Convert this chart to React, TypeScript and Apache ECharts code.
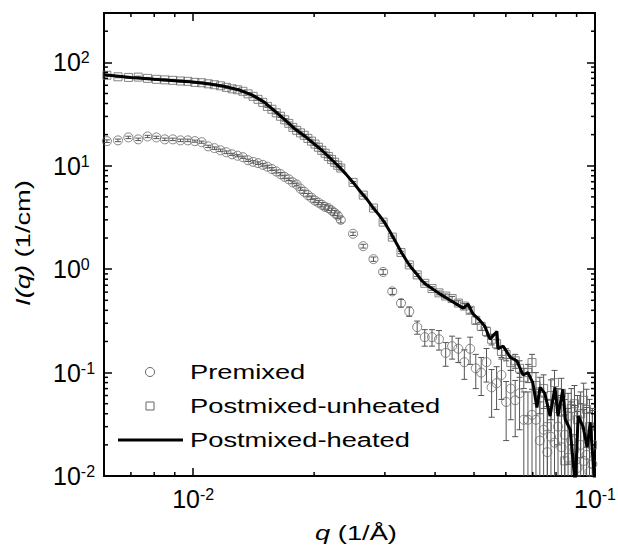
import React, { useEffect, useRef } from 'react';
import * as echarts from 'echarts';

// ---------- data ----------
// q values (1/Å) shared by the two scattered data sets
const qValues = [
  0.0061, 0.0065, 0.0069, 0.0073, 0.0077, 0.0081, 0.0085, 0.0089, 0.0093, 0.0097,
  0.0101, 0.0105, 0.0109, 0.0113, 0.0117, 0.0121, 0.0125, 0.0129, 0.0133, 0.0137,
  0.0141, 0.0145, 0.0149, 0.0153, 0.0157, 0.0161, 0.0165, 0.0169, 0.0173, 0.0177,
  0.0181, 0.0185, 0.0189, 0.0193, 0.0197, 0.0201, 0.0205, 0.0209, 0.0213, 0.0217,
  0.0221, 0.0225, 0.0229, 0.0233,
  0.0250, 0.0265, 0.0281, 0.0297, 0.0313, 0.0329, 0.0345, 0.0361, 0.0377, 0.0393,
  0.0409, 0.0425, 0.0441, 0.0457, 0.0473, 0.0489, 0.0505, 0.0521, 0.0537, 0.0553,
  0.0569, 0.0585, 0.0601, 0.0617, 0.0633, 0.0649, 0.0665, 0.0681, 0.0697, 0.0713,
  0.0729, 0.0745, 0.0761, 0.0777, 0.0793, 0.0809, 0.0825, 0.0841, 0.0857, 0.0873,
  0.0889, 0.0905, 0.0921, 0.0937, 0.0953, 0.0969, 0.0985,
];

const premixedI = [
  17.3, 17.6, 18.8, 18.0, 19.2, 18.8, 18.0, 18.0, 17.6, 17.6,
  17.3, 16.9, 15.4, 14.8, 14.1, 13.5, 12.9, 12.5, 12.1, 11.3,
  10.9, 10.6, 10.2, 9.8, 9.3, 8.8, 8.3, 7.8, 7.4, 6.9,
  6.6, 6.0, 5.6, 5.2, 4.9, 4.6, 4.4, 4.2, 4.0, 3.9,
  3.7, 3.5, 3.3, 3.0,
  2.2, 1.67, 1.25, 0.94, 0.61, 0.47, 0.39, 0.275, 0.22, 0.22,
  0.21, 0.155, 0.18, 0.17, 0.126, 0.17, 0.11, 0.10, 0.126, 0.072,
  0.079, 0.095, 0.052, 0.07, 0.054, 0.063, 0.035, 0.035, 0.039, 0.035,
  0.022, 0.028, 0.017, 0.024, 0.021, 0.030, 0.019, 0.025, 0.015, 0.022,
  0.018, 0.012, 0.02, 0.014, 0.016, 0.011, 0.013,
];

const premixedErr = [
  0.5, 0.5, 0.5, 0.5, 0.5, 0.5, 0.5, 0.5, 0.5, 0.5,
  0.4, 0.4, 0.4, 0.4, 0.4, 0.4, 0.3, 0.3, 0.3, 0.3,
  0.3, 0.3, 0.3, 0.3, 0.3, 0.3, 0.3, 0.3, 0.2, 0.2,
  0.2, 0.2, 0.2, 0.2, 0.2, 0.2, 0.2, 0.2, 0.2, 0.2,
  0.2, 0.2, 0.2, 0.2,
  0.08, 0.07, 0.06, 0.05, 0.04, 0.04, 0.04, 0.04, 0.04, 0.04,
  0.045, 0.04, 0.045, 0.045, 0.04, 0.05, 0.04, 0.04, 0.045, 0.035,
  0.035, 0.04, 0.03, 0.035, 0.03, 0.035, 0.03, 0.03, 0.03, 0.03,
  0.03, 0.03, 0.03, 0.03, 0.03, 0.03, 0.03, 0.03, 0.03, 0.03,
  0.03, 0.03, 0.03, 0.03, 0.03, 0.03, 0.03,
];

const unheatedI = [
  75, 72.5, 71.5, 72, 70, 68.5, 67.7, 67, 66, 65.5,
  64, 63.5, 62, 60.7, 59.3, 57.3, 55.5, 54.3, 52.5, 49.6,
  46.9, 43.9, 41.0, 37.5, 35.2, 32.5, 30.1, 27.8, 25.7, 23.5,
  22.0, 20.8, 19.7, 18.4, 17.3, 16.2, 15.1, 14.1, 13.2, 12.3,
  11.5, 10.8, 10.1, 9.5,
  6.9, 5.2, 3.9, 2.85, 2.04, 1.45, 1.1, 0.88, 0.73, 0.65,
  0.59, 0.55, 0.52, 0.47, 0.44, 0.40, 0.32, 0.28, 0.25, 0.21,
  0.19, 0.16, 0.15, 0.125, 0.13, 0.11, 0.09, 0.1, 0.125, 0.075,
  0.065, 0.07, 0.03, 0.06, 0.08, 0.045, 0.063, 0.014, 0.038, 0.045,
  0.05, 0.035, 0.04, 0.054, 0.044, 0.03, 0.02,
];

const unheatedErr = [
  1.5, 1.5, 1.5, 1.5, 1.5, 1.5, 1.5, 1.5, 1.5, 1.5,
  1.2, 1.2, 1.2, 1.2, 1.2, 1.2, 1.2, 1.2, 1.2, 1.2,
  0.8, 0.8, 0.8, 0.8, 0.8, 0.8, 0.8, 0.8, 0.8, 0.8,
  0.4, 0.4, 0.4, 0.4, 0.4, 0.4, 0.4, 0.4, 0.4, 0.4,
  0.4, 0.4, 0.4, 0.4,
  0.15, 0.12, 0.09, 0.07, 0.05, 0.04, 0.03, 0.03, 0.025, 0.025,
  0.025, 0.025, 0.025, 0.025, 0.025, 0.025, 0.025, 0.025, 0.025, 0.025,
  0.02, 0.02, 0.02, 0.02, 0.02, 0.02, 0.02, 0.02, 0.025, 0.025,
  0.025, 0.025, 0.025, 0.025, 0.025, 0.025, 0.025, 0.025, 0.025, 0.025,
  0.025, 0.025, 0.025, 0.025, 0.025, 0.025, 0.025,
];

const heatedQ = [
  0.006, 0.007, 0.008, 0.009, 0.010, 0.011, 0.012, 0.013, 0.014, 0.015,
  0.016, 0.017, 0.018, 0.019, 0.020, 0.021, 0.022, 0.023, 0.024, 0.025,
  0.026, 0.027, 0.028, 0.029, 0.030, 0.031, 0.032, 0.033, 0.034, 0.035,
  0.036, 0.037, 0.038, 0.041, 0.0436, 0.0470, 0.0483, 0.0497, 0.0517, 0.0532,
  0.0548, 0.0570, 0.0574, 0.0591, 0.0616, 0.0639, 0.0662, 0.0681, 0.0700, 0.0717,
  0.0730, 0.0750, 0.0773, 0.0795, 0.0809, 0.0832, 0.0844, 0.0868, 0.0893, 0.0908,
  0.0934, 0.0956, 0.0973, 0.100,
];

const heatedI = [
  76, 71.5, 68.5, 66.5, 64.5, 61.8, 58.5, 54.2, 48.5, 41.5,
  33.5, 27.3, 22.4, 19.2, 16.3, 13.9, 11.7, 9.9, 8.3, 6.9,
  5.7, 4.8, 3.95, 3.35, 2.8, 2.25, 1.8, 1.45, 1.2, 1.02,
  0.9, 0.78, 0.71, 0.58, 0.50, 0.42, 0.46, 0.37, 0.32, 0.28,
  0.21, 0.25, 0.17, 0.18, 0.14, 0.13, 0.095, 0.10, 0.08, 0.046,
  0.072, 0.063, 0.038, 0.072, 0.038, 0.069, 0.035, 0.028, 0.008, 0.038,
  0.030, 0.019, 0.033, 0.008,
];

const xRange = [0.006, 0.1];
const yRange = [0.01, 300];
const xMinorTicks = [0.007, 0.008, 0.009, 0.02, 0.03, 0.04, 0.05, 0.06, 0.07, 0.08, 0.09];
const yMinorTicks = [
  0.02, 0.03, 0.04, 0.05, 0.06, 0.07, 0.08, 0.09,
  0.2, 0.3, 0.4, 0.5, 0.6, 0.7, 0.8, 0.9,
  2, 3, 4, 5, 6, 7, 8, 9,
  20, 30, 40, 50, 60, 70, 80, 90, 200,
];

const seriesNames = ['Premixed', 'Postmixed-unheated', 'Postmixed-heated'];
const xTitle = { italic: 'q', rest: ' (1/Å)' };
const yTitle = { italic: 'I(q)', rest: ' (1/cm)' };

// ---------- styling ----------
const FONT = "'Liberation Sans', Arial, Helvetica, sans-serif";
const MARK = '#666';

const supFormatter = (v: number) => {
  const e = Math.log10(v);
  const r = Math.round(e);
  if (Math.abs(e - r) > 1e-6) return '';
  return `{b|10}{s|${r}}`;
};

const labelRich = {
  b: { fontSize: 25, fontFamily: FONT, color: '#000' },
  s: { fontSize: 16, fontFamily: FONT, color: '#000', verticalAlign: 'top' },
};

const axisCommon = {
  type: 'log',
  logBase: 10,
  axisLine: { show: true, onZero: false, lineStyle: { color: '#000', width: 2 } },
  axisTick: { show: true, inside: true, length: 8, lineStyle: { color: '#000', width: 1.5 } },
  minorTick: { show: false },
  splitLine: { show: false },
  minorSplitLine: { show: false },
};

function errorBarRender(params: any, api: any) {
  const qv = api.value(0);
  const iv = api.value(1);
  const ev = api.value(2);
  const cs = params.coordSys;
  const bottom = cs.y + cs.height;
  const top = cs.y;
  const x = api.coord([qv, iv])[0];
  let yTop = api.coord([qv, iv + ev])[1];
  const lo = iv - ev;
  let yBot = lo > 0 ? api.coord([qv, lo])[1] : bottom + 10;
  const children: any[] = [];
  const style = { stroke: '#555', lineWidth: 1 };
  const capTop = yTop >= top;
  const capBot = yBot <= bottom;
  yTop = Math.max(yTop, top);
  yBot = Math.min(yBot, bottom);
  children.push({ type: 'line', shape: { x1: x, y1: yTop, x2: x, y2: yBot }, style });
  if (capTop) children.push({ type: 'line', shape: { x1: x - 3, y1: yTop, x2: x + 3, y2: yTop }, style });
  if (capBot) children.push({ type: 'line', shape: { x1: x - 3, y1: yBot, x2: x + 3, y2: yBot }, style });
  return { type: 'group', children };
}

function xTickRender(params: any, api: any) {
  const cs = params.coordSys;
  const x = api.coord([api.value(0), 1])[0];
  const style = { stroke: '#000', lineWidth: 1.5 };
  return {
    type: 'group',
    children: [
      { type: 'line', shape: { x1: x, y1: cs.y + cs.height, x2: x, y2: cs.y + cs.height - 4 }, style },
      { type: 'line', shape: { x1: x, y1: cs.y, x2: x, y2: cs.y + 4 }, style },
    ],
  };
}

function yTickRender(params: any, api: any) {
  const cs = params.coordSys;
  const y = api.coord([0.01, api.value(1)])[1];
  const style = { stroke: '#000', lineWidth: 1.5 };
  return {
    type: 'group',
    children: [
      { type: 'line', shape: { x1: cs.x, y1: y, x2: cs.x + 4, y2: y }, style },
      { type: 'line', shape: { x1: cs.x + cs.width, y1: y, x2: cs.x + cs.width - 4, y2: y }, style },
    ],
  };
}

function buildOption() {
  const premixedData = qValues.map((q, i) => [q, premixedI[i]]);
  const premixedErrData = qValues.map((q, i) => [q, premixedI[i], premixedErr[i]]);
  const unheatedData = qValues.map((q, i) => [q, unheatedI[i]]);
  const unheatedErrData = qValues.map((q, i) => [q, unheatedI[i], unheatedErr[i]]);
  const heatedData = heatedQ.map((q, i) => [q, heatedI[i]]);

  const textStyle = (text: string, x: number, y: number) => ({
    type: 'text',
    x,
    y,
    scaleX: 1.3,
    z: 100,
    style: {
      text,
      fill: '#000',
      font: `21px ${FONT}`,
      fontSize: 21,
      fontFamily: FONT,
      align: 'left',
      verticalAlign: 'middle',
      textAlign: 'left',
      textVerticalAlign: 'middle',
    },
  });

  const titleRich = {
    i: { fontSize: 21, fontFamily: FONT, fontStyle: 'italic', fill: '#000', color: '#000' },
    n: { fontSize: 21, fontFamily: FONT, fill: '#000', color: '#000' },
  };

  return {
    animation: false,
    backgroundColor: '#fff',
    grid: { left: 104, top: 13, right: 23, bottom: 74, containLabel: false, outerBoundsMode: 'none' },
    xAxis: [
      {
        ...axisCommon,
        min: xRange[0],
        max: xRange[1],
        position: 'bottom',
        axisLabel: { formatter: supFormatter, margin: 10, rich: labelRich },
      },
      {
        ...axisCommon,
        min: xRange[0],
        max: xRange[1],
        position: 'top',
        axisLabel: { show: false },
      },
    ],
    yAxis: [
      {
        ...axisCommon,
        min: yRange[0],
        max: yRange[1],
        position: 'left',
        axisLabel: { formatter: supFormatter, margin: 51, align: 'left', rich: labelRich },
      },
      {
        ...axisCommon,
        min: yRange[0],
        max: yRange[1],
        position: 'right',
        axisLabel: { show: false },
      },
    ],
    series: [
      {
        type: 'custom',
        name: seriesNames[0] + ' error',
        renderItem: errorBarRender,
        data: premixedErrData,
        encode: { x: 0, y: 1 },
        z: 2,
        silent: true,
      },
      {
        type: 'scatter',
        name: seriesNames[0],
        data: premixedData,
        symbol: 'circle',
        symbolSize: 9,
        itemStyle: { color: 'rgba(255,255,255,0)', borderColor: MARK, borderWidth: 1 },
        z: 3,
        clip: true,
      },
      {
        type: 'custom',
        name: seriesNames[1] + ' error',
        renderItem: errorBarRender,
        data: unheatedErrData,
        encode: { x: 0, y: 1 },
        z: 2,
        silent: true,
      },
      {
        type: 'scatter',
        name: seriesNames[1],
        data: unheatedData,
        symbol: 'rect',
        symbolSize: 8,
        itemStyle: { color: 'rgba(255,255,255,0)', borderColor: MARK, borderWidth: 1 },
        z: 3,
        clip: true,
      },
      {
        type: 'line',
        name: seriesNames[2],
        data: heatedData,
        showSymbol: false,
        symbol: 'none',
        lineStyle: { color: '#000', width: 3 },
        clip: true,
        z: 4,
      },
      {
        type: 'custom',
        name: 'xMinor',
        renderItem: xTickRender,
        data: xMinorTicks.map((v) => [v, 1]),
        encode: { x: 0, y: 1 },
        z: 5,
        silent: true,
      },
      {
        type: 'custom',
        name: 'yMinor',
        renderItem: yTickRender,
        data: yMinorTicks.map((v) => [0.01, v]),
        encode: { x: 0, y: 1 },
        z: 5,
        silent: true,
      },
    ],
    graphic: [
      {
        type: 'circle',
        z: 100,
        shape: { cx: 150, cy: 372, r: 4.5 },
        style: { fill: 'none', stroke: MARK, lineWidth: 1 },
      },
      {
        type: 'rect',
        z: 100,
        shape: { x: 146, y: 402, width: 8, height: 8 },
        style: { fill: 'none', stroke: MARK, lineWidth: 1 },
      },
      {
        type: 'line',
        z: 100,
        shape: { x1: 118, y1: 440, x2: 183, y2: 440 },
        style: { stroke: '#000', lineWidth: 3 },
      },
      textStyle(seriesNames[0], 190, 372),
      textStyle(seriesNames[1], 190, 406),
      textStyle(seriesNames[2], 190, 440),
      {
        type: 'text',
        x: 23,
        y: 243,
        rotation: Math.PI / 2,
        scaleX: 1.3,
        z: 100,
        style: {
          text: `{i|${yTitle.italic}}{n|${yTitle.rest}}`,
          rich: titleRich,
          fill: '#000',
          fontSize: 21,
          fontFamily: FONT,
          align: 'center',
          verticalAlign: 'middle',
          textAlign: 'center',
          textVerticalAlign: 'middle',
        },
      },
      {
        type: 'text',
        x: 356,
        y: 533,
        scaleX: 1.3,
        z: 100,
        style: {
          text: `{i|${xTitle.italic}}{n|${xTitle.rest}}`,
          rich: titleRich,
          fill: '#000',
          fontSize: 21,
          fontFamily: FONT,
          align: 'center',
          verticalAlign: 'middle',
          textAlign: 'center',
          textVerticalAlign: 'middle',
        },
      },
    ],
  };
}

export default function App() {
  const ref = useRef<HTMLDivElement>(null);
  useEffect(() => {
    if (!ref.current) return;
    const chart = echarts.init(ref.current, null, { renderer: 'svg' });
    chart.setOption(buildOption() as any);
    return () => {
      chart.dispose();
    };
  }, []);
  return (
    <div
      ref={ref}
      style={{ position: 'fixed', left: 0, top: 0, width: 618, height: 550, background: '#fff' }}
    />
  );
}
